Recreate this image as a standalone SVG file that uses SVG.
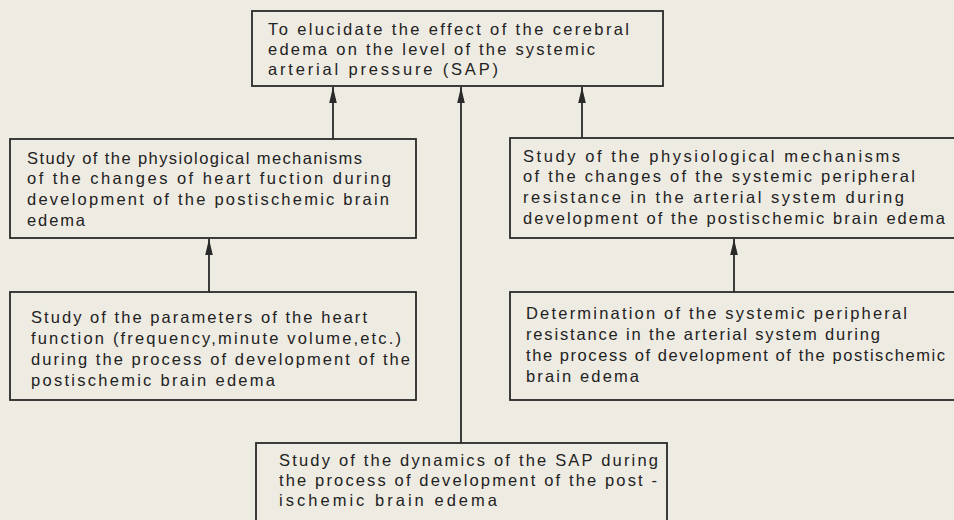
<svg xmlns="http://www.w3.org/2000/svg" width="954" height="520" viewBox="0 0 954 520">
<defs>
<style>
.box{fill:none;stroke:#2a2a2a;stroke-width:1.8}
.t{font-family:"Liberation Sans","DejaVu Sans",sans-serif;font-size:16.5px;fill:#222}
.c{stroke:#2a2a2a;stroke-width:1.8;fill:none}
</style>
<marker id="ah" markerUnits="userSpaceOnUse" markerWidth="17" markerHeight="10" refX="16" refY="5" orient="auto" viewBox="0 0 17 10">
<path d="M16,5 L0,1.2 L0,8.8 Z" fill="#2a2a2a"/>
</marker>
</defs>
<rect width="954" height="520" fill="#eeebe2"/>
<g id="connectors">
<line class="c" x1="333" y1="139" x2="333" y2="87" marker-end="url(#ah)"/>
<line class="c" x1="582" y1="138" x2="582" y2="87" marker-end="url(#ah)"/>
<line class="c" x1="461" y1="443" x2="461" y2="87" marker-end="url(#ah)"/>
<line class="c" x1="209" y1="292" x2="209" y2="239" marker-end="url(#ah)"/>
<line class="c" x1="734" y1="292" x2="734" y2="239" marker-end="url(#ah)"/>
</g>
<g id="goal">
<rect class="box" x="252" y="11" width="411" height="75"/>
<text class="t" x="268" y="35" textLength="361" lengthAdjust="spacing">To elucidate the effect of the cerebral</text>
<text class="t" x="268" y="55" textLength="327" lengthAdjust="spacing">edema on the level of the systemic</text>
<text class="t" x="268" y="75" textLength="230" lengthAdjust="spacing">arterial pressure (SAP)</text>
</g>
<g id="heart-mechanisms">
<rect class="box" x="10" y="139" width="406" height="99"/>
<text class="t" x="27" y="164" textLength="335" lengthAdjust="spacing">Study of the physiological mechanisms</text>
<text class="t" x="27" y="184" textLength="364" lengthAdjust="spacing">of the changes of heart fuction during</text>
<text class="t" x="27" y="205" textLength="362" lengthAdjust="spacing">development of the postischemic brain</text>
<text class="t" x="27" y="226" textLength="58" lengthAdjust="spacing">edema</text>
</g>
<g id="heart-parameters">
<rect class="box" x="10" y="292" width="406" height="108"/>
<text class="t" x="31" y="323" textLength="336" lengthAdjust="spacing">Study of the parameters of the heart</text>
<text class="t" x="31" y="344" textLength="370" lengthAdjust="spacing">function (frequency,minute volume,etc.)</text>
<text class="t" x="31" y="365" textLength="379" lengthAdjust="spacing">during the process of development of the</text>
<text class="t" x="31" y="386" textLength="244" lengthAdjust="spacing">postischemic brain edema</text>
</g>
<g id="resistance-mechanisms">
<rect class="box" x="510" y="138" width="460" height="100"/>
<text class="t" x="523" y="162" textLength="377" lengthAdjust="spacing">Study of the physiological mechanisms</text>
<text class="t" x="523" y="182" textLength="392" lengthAdjust="spacing">of the changes of the systemic peripheral</text>
<text class="t" x="523" y="203" textLength="381" lengthAdjust="spacing">resistance in the arterial system during</text>
<text class="t" x="523" y="224" textLength="422" lengthAdjust="spacing">development of the postischemic brain edema</text>
</g>
<g id="resistance-determination">
<rect class="box" x="510" y="292" width="460" height="108"/>
<text class="t" x="526" y="319" textLength="381" lengthAdjust="spacing">Determination of the systemic peripheral</text>
<text class="t" x="526" y="340" textLength="354" lengthAdjust="spacing">resistance in the arterial system during</text>
<text class="t" x="526" y="361" textLength="419" lengthAdjust="spacing">the process of development of the postischemic</text>
<text class="t" x="526" y="382" textLength="113" lengthAdjust="spacing">brain edema</text>
</g>
<g id="sap-dynamics">
<rect class="box" x="256" y="443" width="411" height="100"/>
<text class="t" x="279" y="466" textLength="379" lengthAdjust="spacing">Study of the dynamics of the SAP during</text>
<text class="t" x="279" y="486" textLength="378" lengthAdjust="spacing">the process of development of the post -</text>
<text class="t" x="279" y="506" textLength="218" lengthAdjust="spacing">ischemic brain edema</text>
</g>
</svg>
